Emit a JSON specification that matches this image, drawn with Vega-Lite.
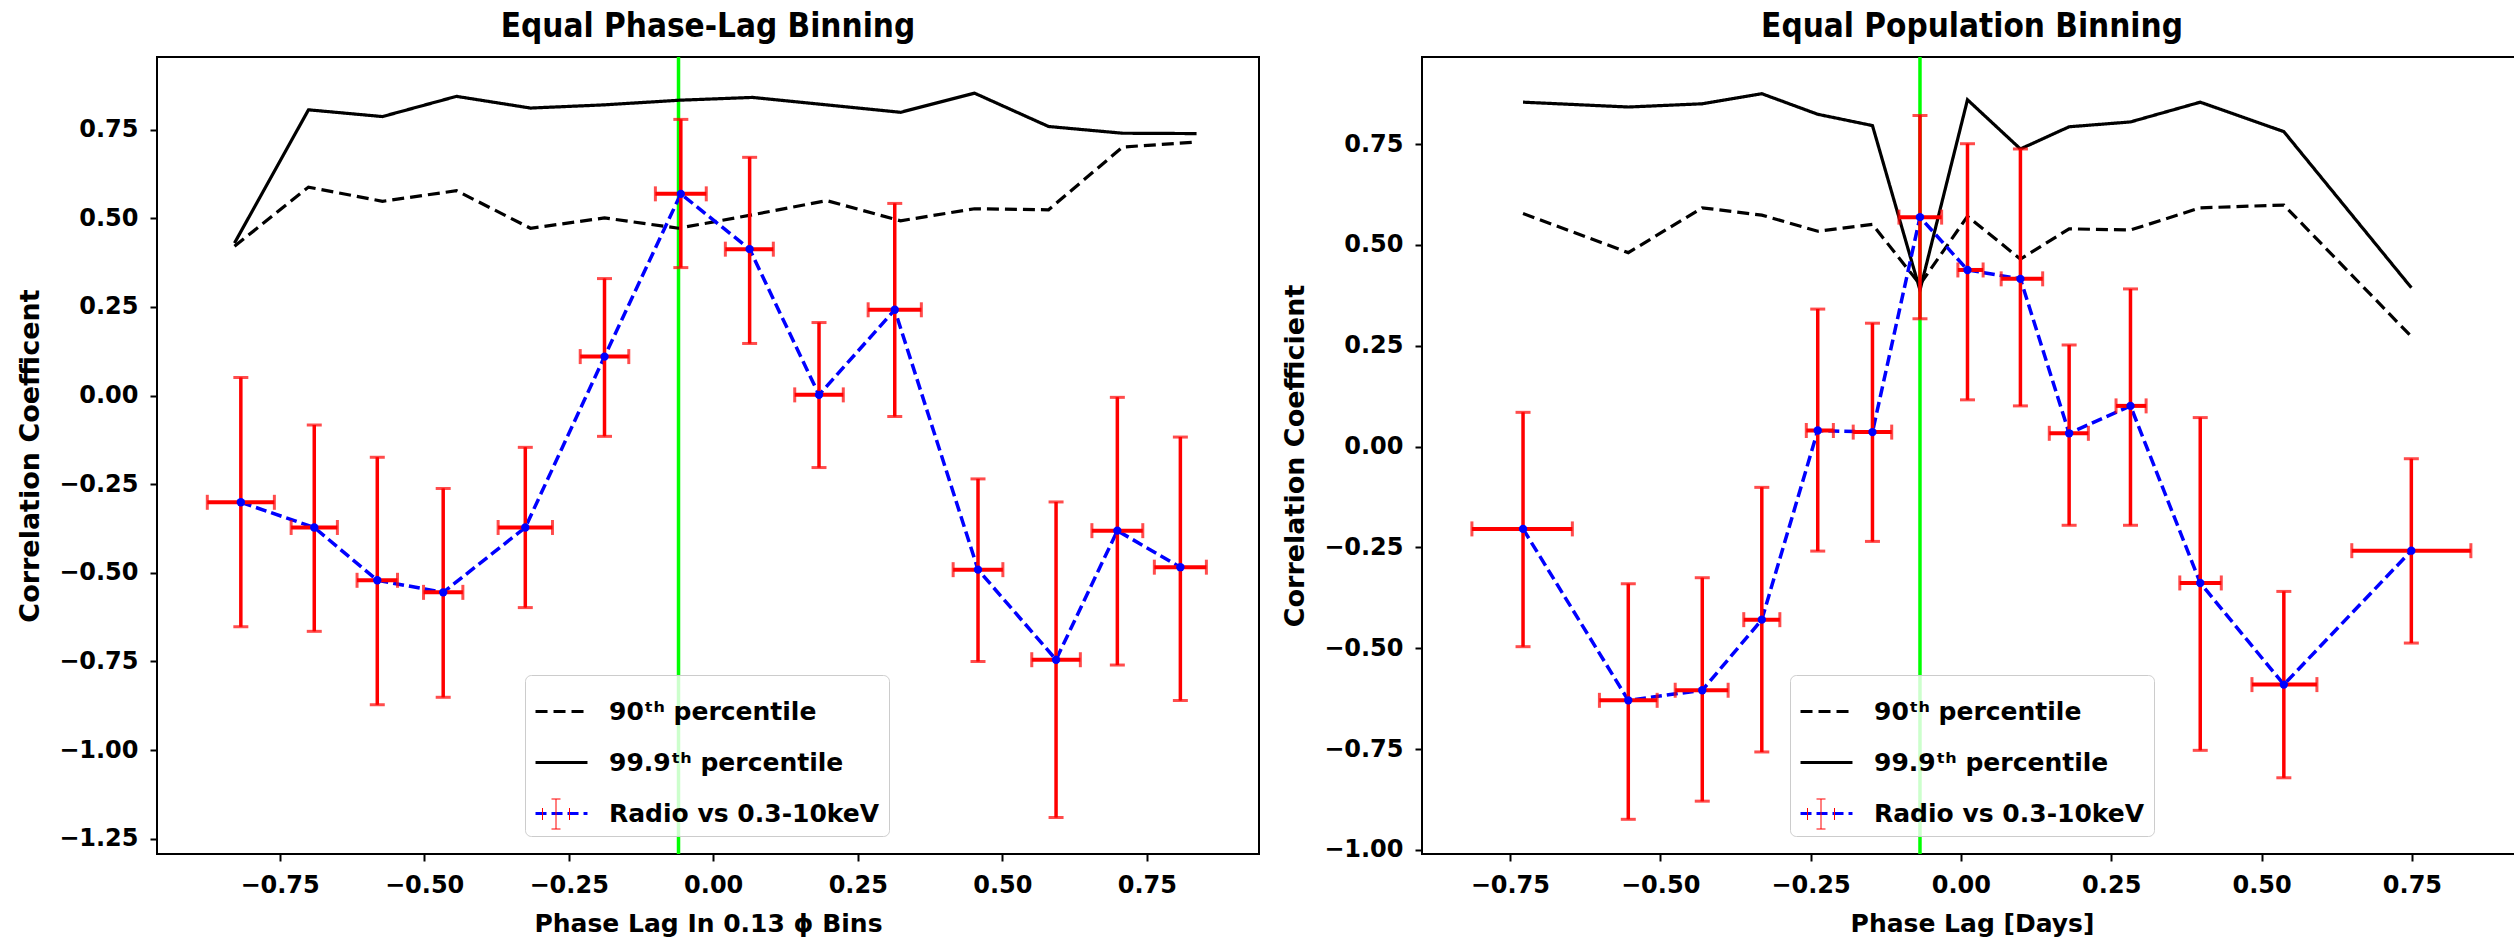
{
  "$schema": "https://vega.github.io/schema/vega-lite/v6.json",
  "background": "white",
  "padding": {"left": 15, "top": 10, "right": 0, "bottom": 0},
  "bounds": "flush",
  "spacing": 163,
  "datasets": {
    "left_vline": [{"x": -0.060}],
    "right_vline": [{"x": -0.068}],
    "left_pct": [
      {"x": -0.828, "y": 0.421, "series": "90ᵗʰ percentile"},
      {"x": -0.700, "y": 0.588, "series": "90ᵗʰ percentile"},
      {"x": -0.572, "y": 0.548, "series": "90ᵗʰ percentile"},
      {"x": -0.444, "y": 0.578, "series": "90ᵗʰ percentile"},
      {"x": -0.316, "y": 0.472, "series": "90ᵗʰ percentile"},
      {"x": -0.188, "y": 0.501, "series": "90ᵗʰ percentile"},
      {"x": -0.060, "y": 0.472, "series": "90ᵗʰ percentile"},
      {"x": 0.068, "y": 0.510, "series": "90ᵗʰ percentile"},
      {"x": 0.196, "y": 0.550, "series": "90ᵗʰ percentile"},
      {"x": 0.324, "y": 0.493, "series": "90ᵗʰ percentile"},
      {"x": 0.452, "y": 0.527, "series": "90ᵗʰ percentile"},
      {"x": 0.580, "y": 0.524, "series": "90ᵗʰ percentile"},
      {"x": 0.708, "y": 0.701, "series": "90ᵗʰ percentile"},
      {"x": 0.836, "y": 0.715, "series": "90ᵗʰ percentile"},
      {"x": -0.828, "y": 0.430, "series": "99.9ᵗʰ percentile"},
      {"x": -0.700, "y": 0.806, "series": "99.9ᵗʰ percentile"},
      {"x": -0.572, "y": 0.787, "series": "99.9ᵗʰ percentile"},
      {"x": -0.444, "y": 0.844, "series": "99.9ᵗʰ percentile"},
      {"x": -0.316, "y": 0.811, "series": "99.9ᵗʰ percentile"},
      {"x": -0.188, "y": 0.820, "series": "99.9ᵗʰ percentile"},
      {"x": -0.060, "y": 0.833, "series": "99.9ᵗʰ percentile"},
      {"x": 0.068, "y": 0.841, "series": "99.9ᵗʰ percentile"},
      {"x": 0.196, "y": 0.820, "series": "99.9ᵗʰ percentile"},
      {"x": 0.324, "y": 0.799, "series": "99.9ᵗʰ percentile"},
      {"x": 0.452, "y": 0.853, "series": "99.9ᵗʰ percentile"},
      {"x": 0.580, "y": 0.759, "series": "99.9ᵗʰ percentile"},
      {"x": 0.708, "y": 0.740, "series": "99.9ᵗʰ percentile"},
      {"x": 0.836, "y": 0.739, "series": "99.9ᵗʰ percentile"}
    ],
    "left_pts": [
      {"x": -0.817, "y": -0.301, "xlo": -0.875, "xhi": -0.759, "ylo": -0.652, "yhi": 0.051, "series": "Radio vs 0.3-10keV"},
      {"x": -0.690, "y": -0.372, "xlo": -0.730, "xhi": -0.650, "ylo": -0.665, "yhi": -0.083, "series": "Radio vs 0.3-10keV"},
      {"x": -0.581, "y": -0.521, "xlo": -0.616, "xhi": -0.546, "ylo": -0.872, "yhi": -0.174, "series": "Radio vs 0.3-10keV"},
      {"x": -0.467, "y": -0.555, "xlo": -0.501, "xhi": -0.433, "ylo": -0.851, "yhi": -0.262, "series": "Radio vs 0.3-10keV"},
      {"x": -0.325, "y": -0.372, "xlo": -0.372, "xhi": -0.278, "ylo": -0.598, "yhi": -0.146, "series": "Radio vs 0.3-10keV"},
      {"x": -0.188, "y": 0.110, "xlo": -0.230, "xhi": -0.146, "ylo": -0.115, "yhi": 0.330, "series": "Radio vs 0.3-10keV"},
      {"x": -0.056, "y": 0.569, "xlo": -0.100, "xhi": -0.012, "ylo": 0.361, "yhi": 0.779, "series": "Radio vs 0.3-10keV"},
      {"x": 0.063, "y": 0.413, "xlo": 0.021, "xhi": 0.104, "ylo": 0.147, "yhi": 0.672, "series": "Radio vs 0.3-10keV"},
      {"x": 0.183, "y": 0.002, "xlo": 0.141, "xhi": 0.225, "ylo": -0.203, "yhi": 0.206, "series": "Radio vs 0.3-10keV"},
      {"x": 0.314, "y": 0.242, "xlo": 0.268, "xhi": 0.360, "ylo": -0.059, "yhi": 0.542, "series": "Radio vs 0.3-10keV"},
      {"x": 0.458, "y": -0.491, "xlo": 0.415, "xhi": 0.501, "ylo": -0.750, "yhi": -0.235, "series": "Radio vs 0.3-10keV"},
      {"x": 0.593, "y": -0.745, "xlo": 0.551, "xhi": 0.635, "ylo": -1.190, "yhi": -0.300, "series": "Radio vs 0.3-10keV"},
      {"x": 0.699, "y": -0.381, "xlo": 0.655, "xhi": 0.743, "ylo": -0.760, "yhi": -0.005, "series": "Radio vs 0.3-10keV"},
      {"x": 0.808, "y": -0.484, "xlo": 0.763, "xhi": 0.853, "ylo": -0.860, "yhi": -0.117, "series": "Radio vs 0.3-10keV"}
    ],
    "right_pct": [
      {"x": -0.728, "y": 0.578, "series": "90ᵗʰ percentile"},
      {"x": -0.553, "y": 0.481, "series": "90ᵗʰ percentile"},
      {"x": -0.430, "y": 0.592, "series": "90ᵗʰ percentile"},
      {"x": -0.331, "y": 0.574, "series": "90ᵗʰ percentile"},
      {"x": -0.238, "y": 0.534, "series": "90ᵗʰ percentile"},
      {"x": -0.147, "y": 0.551, "series": "90ᵗʰ percentile"},
      {"x": -0.068, "y": 0.402, "series": "90ᵗʰ percentile"},
      {"x": 0.011, "y": 0.571, "series": "90ᵗʰ percentile"},
      {"x": 0.099, "y": 0.465, "series": "90ᵗʰ percentile"},
      {"x": 0.180, "y": 0.540, "series": "90ᵗʰ percentile"},
      {"x": 0.282, "y": 0.537, "series": "90ᵗʰ percentile"},
      {"x": 0.398, "y": 0.592, "series": "90ᵗʰ percentile"},
      {"x": 0.537, "y": 0.599, "series": "90ᵗʰ percentile"},
      {"x": 0.749, "y": 0.273, "series": "90ᵗʰ percentile"},
      {"x": -0.728, "y": 0.854, "series": "99.9ᵗʰ percentile"},
      {"x": -0.553, "y": 0.842, "series": "99.9ᵗʰ percentile"},
      {"x": -0.430, "y": 0.850, "series": "99.9ᵗʰ percentile"},
      {"x": -0.331, "y": 0.875, "series": "99.9ᵗʰ percentile"},
      {"x": -0.238, "y": 0.824, "series": "99.9ᵗʰ percentile"},
      {"x": -0.147, "y": 0.796, "series": "99.9ᵗʰ percentile"},
      {"x": -0.068, "y": 0.388, "series": "99.9ᵗʰ percentile"},
      {"x": 0.011, "y": 0.860, "series": "99.9ᵗʰ percentile"},
      {"x": 0.099, "y": 0.738, "series": "99.9ᵗʰ percentile"},
      {"x": 0.180, "y": 0.793, "series": "99.9ᵗʰ percentile"},
      {"x": 0.282, "y": 0.805, "series": "99.9ᵗʰ percentile"},
      {"x": 0.398, "y": 0.854, "series": "99.9ᵗʰ percentile"},
      {"x": 0.537, "y": 0.781, "series": "99.9ᵗʰ percentile"},
      {"x": 0.749, "y": 0.394, "series": "99.9ᵗʰ percentile"}
    ],
    "right_pts": [
      {"x": -0.728, "y": -0.204, "xlo": -0.813, "xhi": -0.646, "ylo": -0.496, "yhi": 0.085, "series": "Radio vs 0.3-10keV"},
      {"x": -0.553, "y": -0.629, "xlo": -0.601, "xhi": -0.505, "ylo": -0.924, "yhi": -0.340, "series": "Radio vs 0.3-10keV"},
      {"x": -0.430, "y": -0.604, "xlo": -0.475, "xhi": -0.387, "ylo": -0.879, "yhi": -0.325, "series": "Radio vs 0.3-10keV"},
      {"x": -0.331, "y": -0.429, "xlo": -0.361, "xhi": -0.301, "ylo": -0.757, "yhi": -0.101, "series": "Radio vs 0.3-10keV"},
      {"x": -0.238, "y": 0.040, "xlo": -0.257, "xhi": -0.212, "ylo": -0.259, "yhi": 0.341, "series": "Radio vs 0.3-10keV"},
      {"x": -0.147, "y": 0.036, "xlo": -0.179, "xhi": -0.115, "ylo": -0.235, "yhi": 0.306, "series": "Radio vs 0.3-10keV"},
      {"x": -0.068, "y": 0.569, "xlo": -0.103, "xhi": -0.032, "ylo": 0.317, "yhi": 0.821, "series": "Radio vs 0.3-10keV"},
      {"x": 0.011, "y": 0.438, "xlo": -0.005, "xhi": 0.037, "ylo": 0.116, "yhi": 0.751, "series": "Radio vs 0.3-10keV"},
      {"x": 0.099, "y": 0.416, "xlo": 0.067, "xhi": 0.136, "ylo": 0.101, "yhi": 0.738, "series": "Radio vs 0.3-10keV"},
      {"x": 0.180, "y": 0.033, "xlo": 0.147, "xhi": 0.212, "ylo": -0.195, "yhi": 0.252, "series": "Radio vs 0.3-10keV"},
      {"x": 0.282, "y": 0.101, "xlo": 0.258, "xhi": 0.308, "ylo": -0.195, "yhi": 0.391, "series": "Radio vs 0.3-10keV"},
      {"x": 0.398, "y": -0.338, "xlo": 0.364, "xhi": 0.433, "ylo": -0.753, "yhi": 0.072, "series": "Radio vs 0.3-10keV"},
      {"x": 0.537, "y": -0.590, "xlo": 0.484, "xhi": 0.592, "ylo": -0.821, "yhi": -0.359, "series": "Radio vs 0.3-10keV"},
      {"x": 0.749, "y": -0.258, "xlo": 0.650, "xhi": 0.848, "ylo": -0.487, "yhi": -0.030, "series": "Radio vs 0.3-10keV"}
    ]
  },
  "hconcat": [
    {
      "width": 1102,
      "height": 797,
      "title": "Equal Phase-Lag Binning",
      "layer": [
        {
          "data": {"name": "left_vline"},
          "mark": {"type": "rule", "color": "#00ff00", "strokeWidth": 3.5},
          "encoding": {
            "x": {"field": "x", "type": "quantitative", "scale": {"domain": [-0.962, 0.944], "nice": false, "zero": false}, "axis": {"values": [-0.75, -0.5, -0.25, 0, 0.25, 0.5, 0.75], "format": ".2f"}, "title": "Phase Lag In 0.13 ϕ Bins"}
          }
        },
        {
          "data": {"name": "left_pct"},
          "mark": {"type": "line", "strokeWidth": 3.2},
          "encoding": {
            "x": {"field": "x", "type": "quantitative", "scale": {"domain": [-0.962, 0.944], "nice": false, "zero": false}, "axis": {"values": [-0.75, -0.5, -0.25, 0, 0.25, 0.5, 0.75], "format": ".2f"}, "title": "Phase Lag In 0.13 ϕ Bins"},
            "y": {"field": "y", "type": "quantitative", "scale": {"domain": [-1.293, 0.955], "nice": false, "zero": false}, "axis": {"values": [-1.25, -1, -0.75, -0.5, -0.25, 0, 0.25, 0.5, 0.75], "format": ".2f"}, "title": "Correlation Coefficent"},
            "color": {"field": "series", "type": "nominal", "scale": {"domain": ["90ᵗʰ percentile", "99.9ᵗʰ percentile", "Radio vs 0.3-10keV"], "range": ["black", "black", "blue"]}, "legend": {"orient": "none", "legendX": 368, "legendY": 618}},
            "strokeDash": {"field": "series", "type": "nominal", "scale": {"domain": ["90ᵗʰ percentile", "99.9ᵗʰ percentile", "Radio vs 0.3-10keV"], "range": [[12, 6], [1, 0], [11, 5]]}, "legend": {"orient": "none", "legendX": 368, "legendY": 618}}
          }
        },
        {
          "data": {"name": "left_pts"},
          "mark": {"type": "line", "strokeWidth": 3.5},
          "encoding": {
            "x": {"field": "x", "type": "quantitative", "scale": {"domain": [-0.962, 0.944], "nice": false, "zero": false}, "axis": {"values": [-0.75, -0.5, -0.25, 0, 0.25, 0.5, 0.75], "format": ".2f"}, "title": "Phase Lag In 0.13 ϕ Bins"},
            "y": {"field": "y", "type": "quantitative", "scale": {"domain": [-1.293, 0.955], "nice": false, "zero": false}, "axis": {"values": [-1.25, -1, -0.75, -0.5, -0.25, 0, 0.25, 0.5, 0.75], "format": ".2f"}, "title": "Correlation Coefficent"},
            "color": {"field": "series", "type": "nominal", "scale": {"domain": ["90ᵗʰ percentile", "99.9ᵗʰ percentile", "Radio vs 0.3-10keV"], "range": ["black", "black", "blue"]}, "legend": {"orient": "none", "legendX": 368, "legendY": 618}},
            "strokeDash": {"field": "series", "type": "nominal", "scale": {"domain": ["90ᵗʰ percentile", "99.9ᵗʰ percentile", "Radio vs 0.3-10keV"], "range": [[12, 6], [1, 0], [11, 5]]}, "legend": {"orient": "none", "legendX": 368, "legendY": 618}}
          }
        },
        {
          "data": {"name": "left_pts"},
          "mark": {"type": "errorbar", "color": "red", "thickness": 3.5, "ticks": {"size": 15, "thickness": 3, "color": "red"}},
          "encoding": {
            "x": {"field": "x", "type": "quantitative", "title": "Phase Lag In 0.13 ϕ Bins"},
            "y": {"field": "ylo", "type": "quantitative", "title": "Correlation Coefficent"},
            "y2": {"field": "yhi"}
          }
        },
        {
          "data": {"name": "left_pts"},
          "mark": {"type": "errorbar", "color": "red", "thickness": 4, "ticks": {"size": 15, "thickness": 3, "color": "red"}},
          "encoding": {
            "y": {"field": "y", "type": "quantitative", "title": "Correlation Coefficent"},
            "x": {"field": "xlo", "type": "quantitative", "title": "Phase Lag In 0.13 ϕ Bins"},
            "x2": {"field": "xhi"}
          }
        },
        {
          "data": {"name": "left_pts"},
          "mark": {"type": "rule", "color": "red"},
          "encoding": {
            "x": {"field": "x", "type": "quantitative", "title": "Phase Lag In 0.13 ϕ Bins"},
            "y": {"field": "ylo", "type": "quantitative", "title": "Correlation Coefficent"},
            "y2": {"field": "yhi"},
            "strokeWidth": {"field": "series", "type": "ordinal", "scale": {"domain": ["Radio vs 0.3-10keV"], "range": [3.5]}, "legend": {"orient": "none", "legendX": 399, "legendY": 757, "title": null, "symbolType": "M0,-1V1M-0.3,-1H0.3M-0.3,1H0.3M-0.9,-0.4V0.4M0.9,-0.4V0.4", "symbolSize": 900, "symbolStrokeColor": "red", "symbolStrokeWidth": 4, "symbolFillColor": "transparent", "symbolOpacity": 1, "labelExpr": "''", "padding": 0, "fillColor": "rgba(0,0,0,0)", "strokeColor": "rgba(0,0,0,0)"}}
          }
        },
        {
          "data": {"name": "left_pts"},
          "mark": {"type": "point", "filled": true, "color": "blue", "size": 70, "opacity": 1},
          "encoding": {
            "x": {"field": "x", "type": "quantitative", "title": "Phase Lag In 0.13 ϕ Bins"},
            "y": {"field": "y", "type": "quantitative", "title": "Correlation Coefficent"}
          }
        }
      ]
    },
    {
      "width": 1100,
      "height": 797,
      "title": "Equal Population Binning",
      "layer": [
        {
          "data": {"name": "right_vline"},
          "mark": {"type": "rule", "color": "#00ff00", "strokeWidth": 3.5},
          "encoding": {
            "x": {"field": "x", "type": "quantitative", "scale": {"domain": [-0.896, 0.933], "nice": false, "zero": false}, "axis": {"values": [-0.75, -0.5, -0.25, 0, 0.25, 0.5, 0.75], "format": ".2f"}, "title": "Phase Lag [Days]"}
          }
        },
        {
          "data": {"name": "right_pct"},
          "mark": {"type": "line", "strokeWidth": 3.2},
          "encoding": {
            "x": {"field": "x", "type": "quantitative", "scale": {"domain": [-0.896, 0.933], "nice": false, "zero": false}, "axis": {"values": [-0.75, -0.5, -0.25, 0, 0.25, 0.5, 0.75], "format": ".2f"}, "title": "Phase Lag [Days]"},
            "y": {"field": "y", "type": "quantitative", "scale": {"domain": [-1.010, 0.966], "nice": false, "zero": false}, "axis": {"values": [-1, -0.75, -0.5, -0.25, 0, 0.25, 0.5, 0.75], "format": ".2f"}, "title": "Correlation Coefficient"},
            "color": {"field": "series", "type": "nominal", "scale": {"domain": ["90ᵗʰ percentile", "99.9ᵗʰ percentile", "Radio vs 0.3-10keV"], "range": ["black", "black", "blue"]}, "legend": {"orient": "none", "legendX": 368, "legendY": 618}},
            "strokeDash": {"field": "series", "type": "nominal", "scale": {"domain": ["90ᵗʰ percentile", "99.9ᵗʰ percentile", "Radio vs 0.3-10keV"], "range": [[12, 6], [1, 0], [11, 5]]}, "legend": {"orient": "none", "legendX": 368, "legendY": 618}}
          }
        },
        {
          "data": {"name": "right_pts"},
          "mark": {"type": "line", "strokeWidth": 3.5},
          "encoding": {
            "x": {"field": "x", "type": "quantitative", "scale": {"domain": [-0.896, 0.933], "nice": false, "zero": false}, "axis": {"values": [-0.75, -0.5, -0.25, 0, 0.25, 0.5, 0.75], "format": ".2f"}, "title": "Phase Lag [Days]"},
            "y": {"field": "y", "type": "quantitative", "scale": {"domain": [-1.010, 0.966], "nice": false, "zero": false}, "axis": {"values": [-1, -0.75, -0.5, -0.25, 0, 0.25, 0.5, 0.75], "format": ".2f"}, "title": "Correlation Coefficient"},
            "color": {"field": "series", "type": "nominal", "scale": {"domain": ["90ᵗʰ percentile", "99.9ᵗʰ percentile", "Radio vs 0.3-10keV"], "range": ["black", "black", "blue"]}, "legend": {"orient": "none", "legendX": 368, "legendY": 618}},
            "strokeDash": {"field": "series", "type": "nominal", "scale": {"domain": ["90ᵗʰ percentile", "99.9ᵗʰ percentile", "Radio vs 0.3-10keV"], "range": [[12, 6], [1, 0], [11, 5]]}, "legend": {"orient": "none", "legendX": 368, "legendY": 618}}
          }
        },
        {
          "data": {"name": "right_pts"},
          "mark": {"type": "errorbar", "color": "red", "thickness": 3.5, "ticks": {"size": 15, "thickness": 3, "color": "red"}},
          "encoding": {
            "x": {"field": "x", "type": "quantitative", "title": "Phase Lag [Days]"},
            "y": {"field": "ylo", "type": "quantitative", "title": "Correlation Coefficient"},
            "y2": {"field": "yhi"}
          }
        },
        {
          "data": {"name": "right_pts"},
          "mark": {"type": "errorbar", "color": "red", "thickness": 4, "ticks": {"size": 15, "thickness": 3, "color": "red"}},
          "encoding": {
            "y": {"field": "y", "type": "quantitative", "title": "Correlation Coefficient"},
            "x": {"field": "xlo", "type": "quantitative", "title": "Phase Lag [Days]"},
            "x2": {"field": "xhi"}
          }
        },
        {
          "data": {"name": "right_pts"},
          "mark": {"type": "rule", "color": "red"},
          "encoding": {
            "x": {"field": "x", "type": "quantitative", "title": "Phase Lag [Days]"},
            "y": {"field": "ylo", "type": "quantitative", "title": "Correlation Coefficient"},
            "y2": {"field": "yhi"},
            "strokeWidth": {"field": "series", "type": "ordinal", "scale": {"domain": ["Radio vs 0.3-10keV"], "range": [3.5]}, "legend": {"orient": "none", "legendX": 399, "legendY": 757, "title": null, "symbolType": "M0,-1V1M-0.3,-1H0.3M-0.3,1H0.3M-0.9,-0.4V0.4M0.9,-0.4V0.4", "symbolSize": 900, "symbolStrokeColor": "red", "symbolStrokeWidth": 4, "symbolFillColor": "transparent", "symbolOpacity": 1, "labelExpr": "''", "padding": 0, "fillColor": "rgba(0,0,0,0)", "strokeColor": "rgba(0,0,0,0)"}}
          }
        },
        {
          "data": {"name": "right_pts"},
          "mark": {"type": "point", "filled": true, "color": "blue", "size": 70, "opacity": 1},
          "encoding": {
            "x": {"field": "x", "type": "quantitative", "title": "Phase Lag [Days]"},
            "y": {"field": "y", "type": "quantitative", "title": "Correlation Coefficient"}
          }
        }
      ]
    }
  ],
  "resolve": {
    "scale": {"x": "independent", "y": "independent", "color": "independent", "strokeDash": "independent", "strokeWidth": "independent"},
    "legend": {"color": "independent", "strokeDash": "independent", "strokeWidth": "independent"}
  },
  "config": {
    "view": {"stroke": "black", "strokeWidth": 2},
    "axis": {
      "grid": false,
      "domain": false,
      "tickColor": "black",
      "tickSize": 7,
      "tickWidth": 2,
      "labelFont": "DejaVu Sans",
      "labelFontWeight": "bold",
      "labelFontSize": 24,
      "labelColor": "black",
      "labelPadding": 12,
      "labelFlush": false,
      "labelOverlap": false,
      "titleFont": "DejaVu Sans",
      "titleFontWeight": "bold",
      "titleColor": "black"
    },
    "axisX": {"titleFontSize": 25, "titlePadding": 14},
    "axisY": {"titleFontSize": 27, "titlePadding": 14},
    "title": {"font": "DejaVu Sans Condensed", "fontWeight": "bold", "fontSize": 33, "color": "black", "anchor": "middle", "frame": "group", "baseline": "alphabetic", "offset": 11},
    "legend": {
      "title": null,
      "symbolType": "stroke",
      "symbolSize": 2700,
      "symbolStrokeWidth": 3,
      "labelFont": "DejaVu Sans",
      "labelFontWeight": "bold",
      "labelFontSize": 25,
      "labelColor": "black",
      "labelOffset": 20,
      "labelLimit": 500,
      "padding": 9,
      "rowPadding": 10,
      "fillColor": "rgba(255,255,255,0.8)",
      "strokeColor": "#cccccc",
      "cornerRadius": 6
    }
  }
}
